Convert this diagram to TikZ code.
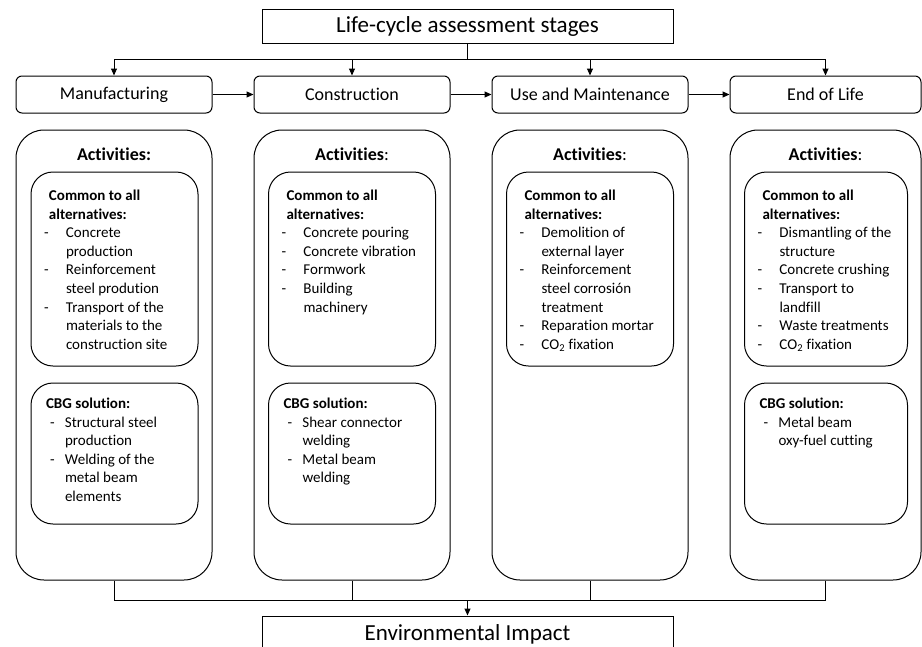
\documentclass[tikz,border=0pt]{standalone}
\usepackage{fontspec}
\setmainfont{Carlito}[Ligatures=NoCommon]
\usetikzlibrary{arrows.meta}
\newcommand{\dsh}{\makebox[22pt][l]{-}}
\newcommand{\itind}{\hspace*{22pt}}
\newcommand{\cdsh}{\hspace*{4pt}\makebox[15pt][l]{-}}
\newcommand{\citind}{\hspace*{19pt}}
\begin{document}
\begin{tikzpicture}[x=1pt,y=-1pt,
  line width=1pt,
  arr/.style={-{Triangle[length=7pt,width=6pt]}},
  titlebox/.style={draw, inner sep=0pt, minimum width=411pt, minimum height=34pt, font=\fontsize{23}{28}\selectfont},
  stagebox/.style={draw, rounded corners=6pt, inner sep=0pt, minimum width=196pt, minimum height=37pt, font=\fontsize{18}{22}\selectfont},
  colbox/.style={draw, rounded corners=28pt, inner sep=0pt, minimum width=196pt, minimum height=450pt},
  innerbox/.style={draw, rounded corners=22pt, inner sep=0pt, minimum width=167pt, minimum height=194pt},
  cbgbox/.style={draw, rounded corners=22pt, inner sep=0pt, minimum width=167pt, minimum height=141pt},
  acttxt/.style={font=\bfseries\fontsize{18}{22}\selectfont, inner sep=0pt},
  listtxt/.style={anchor=north west, inner sep=0pt, align=left, font=\fontsize{15}{18.6}\selectfont}
]
\useasboundingbox (0,0) rectangle (922,646);
\clip (0,0) rectangle (922,646);

% title
\node[titlebox] (title) at (467.5,26) {Life-cycle assessment stages};

% stages
\node[stagebox] (s1) at (114,94.5) {Manufacturing};
\node[stagebox] (s2) at (352,94.5) {Construction};
\node[stagebox] (s3) at (590,94.5) {Use and Maintenance};
\node[stagebox, minimum width=191pt] (s4) at (825.5,94.5) {End of Life};

% top connectors
\coordinate (tj) at (467.5,59);
\draw (title.south) -- (tj);
\draw[arr] (tj) -| (s1.north);
\draw[arr] (tj) -| (s2.north);
\draw[arr] (tj) -| (s3.north);
\draw[arr] (tj) -| (s4.north);
\draw[arr] (s1.east) -- (s2.west);
\draw[arr] (s2.east) -- (s3.west);
\draw[arr] (s3.east) -- (s4.west);

% columns
\node[colbox] (c1) at (114,355) {};
\node[colbox] (c2) at (352,355) {};
\node[colbox] (c3) at (590,355) {};
\node[colbox, minimum width=191pt] (c4) at (825.5,355) {};

\node[acttxt] (a1) at (114,154) {Activities:};
\node[acttxt] (a2) at (352,154) {Activities\mdseries:};
\node[acttxt] (a3) at (590,154) {Activities\mdseries:};
\node[acttxt] (a4) at (825.5,154) {Activities\mdseries:};

% common boxes
\node[innerbox] (i1) at (114.5,269) {};
\node[innerbox] (i2) at (352,269) {};
\node[innerbox] (i3) at (590,269) {};
\node[innerbox, minimum width=163pt] (i4) at (826,269) {};

\node[listtxt] (t1) at ([xshift=13pt,yshift=-18pt]i1.north west) {%
\hspace*{5pt}\textbf{Common to all}\\
\hspace*{5pt}\textbf{alternatives:}\\
\dsh Concrete\\
\itind production\\
\dsh Reinforcement\\
\itind steel prodution\\
\dsh Transport of the\\
\itind materials to the\\
\itind construction site};

\node[listtxt] (t2) at ([xshift=13pt,yshift=-18pt]i2.north west) {%
\hspace*{5pt}\textbf{Common to all}\\
\hspace*{5pt}\textbf{alternatives:}\\
\dsh Concrete pouring\\
\dsh Concrete vibration\\
\dsh Formwork\\
\dsh Building\\
\itind machinery};

\node[listtxt] (t3) at ([xshift=13pt,yshift=-18pt]i3.north west) {%
\hspace*{5pt}\textbf{Common to all}\\
\hspace*{5pt}\textbf{alternatives:}\\
\dsh Demolition of\\
\itind external layer\\
\dsh Reinforcement\\
\itind steel corrosión\\
\itind treatment\\
\dsh Reparation mortar\\
\dsh CO\textsubscript{2} fixation};

\node[listtxt] (t4) at ([xshift=13pt,yshift=-18pt]i4.north west) {%
\hspace*{5pt}\textbf{Common to all}\\
\hspace*{5pt}\textbf{alternatives:}\\
\dsh Dismantling of the\\
\itind structure\\
\dsh Concrete crushing\\
\dsh Transport to\\
\itind landfill\\
\dsh Waste treatments\\
\dsh CO\textsubscript{2} fixation};

% CBG boxes
\node[cbgbox] (b1) at (114.5,453.5) {};
\node[cbgbox] (b2) at (352,453.5) {};
\node[cbgbox, minimum width=163pt] (b4) at (826,453.5) {};

\node[listtxt] (u1) at ([xshift=15pt,yshift=-15pt]b1.north west) {%
\textbf{CBG solution:}\\
\cdsh Structural steel\\
\citind production\\
\cdsh Welding of the\\
\citind metal beam\\
\citind elements};

\node[listtxt] (u2) at ([xshift=15pt,yshift=-15pt]b2.north west) {%
\textbf{CBG solution:}\\
\cdsh Shear connector\\
\citind welding\\
\cdsh Metal beam\\
\citind welding};

\node[listtxt] (u4) at ([xshift=15pt,yshift=-15pt]b4.north west) {%
\textbf{CBG solution:}\\
\cdsh Metal beam\\
\citind oxy-fuel cutting};

% bottom
\node[titlebox, minimum height=36pt] (env) at (467.5,634) {Environmental Impact};
\coordinate (bj) at (467.5,600);
\draw (c1.south) |- (bj);
\draw (c2.south) |- (bj);
\draw (c3.south) |- (bj);
\draw (c4.south) |- (bj);
\draw[arr] (bj) -- (env.north);
\end{tikzpicture}
\end{document}
